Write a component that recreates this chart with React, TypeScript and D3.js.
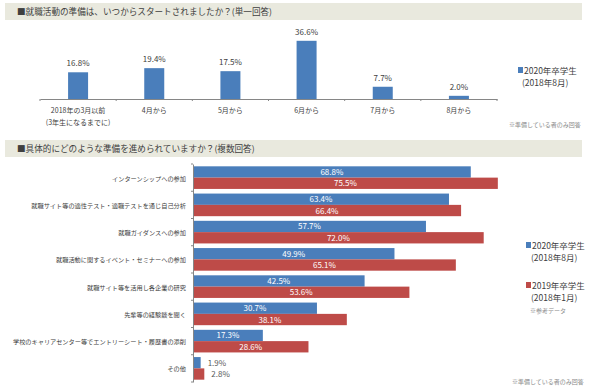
import React, { useEffect, useRef } from "react";
import * as d3 from "d3";

// top chart: single answer
const startCategories = [
  ["2018年の3月以前", "(3年生になるまでに)"],
  ["4月から"],
  ["5月から"],
  ["6月から"],
  ["7月から"],
  ["8月から"],
];
const startValues = [16.8, 19.4, 17.5, 36.6, 7.7, 2.0];

// bottom chart: multiple answers
const prepCategories = [
  "インターンシップへの参加",
  "就職サイト等の適性テスト・適職テストを通じ自己分析",
  "就職ガイダンスへの参加",
  "就職活動に関するイベント・セミナーへの参加",
  "就職サイト等を活用し各企業の研究",
  "先輩等の経験談を聞く",
  "学校のキャリアセンター等でエントリーシート・履歴書の添削",
  "その他",
];
const prep2020 = [68.8, 63.4, 57.7, 49.9, 42.5, 30.7, 17.3, 1.9];
const prep2019 = [75.5, 66.4, 72.0, 65.1, 53.6, 38.1, 28.6, 2.8];

const BLUE = "#4a7ebb";
const RED = "#be4b48";
const FONT = "'Noto Sans CJK JP', 'Noto Sans', sans-serif";

export default function App() {
  const svgRef = useRef<SVGSVGElement>(null);

  useEffect(() => {
    document.body.style.margin = "0";
    if (!svgRef.current) return;
    const svg = d3.select(svgRef.current);
    svg.selectAll("*").remove();
    svg.attr("width", 600).attr("height", 392).style("font-family", FONT);

    svg.append("rect").attr("width", 600).attr("height", 392).attr("fill", "#fff");

    // Header bands
    const headers = [
      { y: 3, text: "■就職活動の準備は、いつからスタートされましたか？(単一回答)" },
      { y: 140, text: "■具体的にどのような準備を進められていますか？(複数回答)" },
    ];
    headers.forEach((h) => {
      svg
        .append("rect")
        .attr("x", 5)
        .attr("y", h.y)
        .attr("width", 577)
        .attr("height", 17)
        .attr("fill", "#e9e9de");
      svg
        .append("text")
        .attr("x", 17)
        .attr("y", h.y + 12)
        .attr("font-size", "8.6px")
        .attr("fill", "#404040")
        .text(h.text);
    });

    // ---- Top chart ----
    const x0 = d3
      .scaleBand<number>()
      .domain(d3.range(startValues.length))
      .range([40, 497]);
    const y0 = d3.scaleLinear().domain([0, 40]).range([99, 35.4]);

    const top = svg.append("g");
    top
      .selectAll("rect.bar")
      .data(startValues)
      .enter()
      .append("rect")
      .attr("x", (_, i) => x0(i)! + x0.bandwidth() / 2 - 10)
      .attr("y", (d) => y0(d))
      .attr("width", 20)
      .attr("height", (d) => y0(0) - y0(d))
      .attr("fill", BLUE);

    top
      .selectAll("text.val")
      .data(startValues)
      .enter()
      .append("text")
      .attr("x", (_, i) => x0(i)! + x0.bandwidth() / 2)
      .attr("y", (d) => y0(d) - 6)
      .attr("text-anchor", "middle")
      .attr("font-size", "8px")
      .attr("fill", "#404040")
      .text((d) => d.toFixed(1) + "%");

    const xAxis = top
      .append("g")
      .attr("transform", `translate(0,${y0(0)})`)
      .call(d3.axisBottom(x0).tickSize(0).tickFormat(() => ""));
    xAxis.select(".domain").attr("stroke", "#868686");
    // boundary ticks
    d3.range(startValues.length + 1).forEach((i) => {
      const tx = 40 + i * x0.step();
      top
        .append("line")
        .attr("x1", tx)
        .attr("x2", tx)
        .attr("y1", y0(0))
        .attr("y2", y0(0) + 2)
        .attr("stroke", "#868686");
    });

    startCategories.forEach((lines, i) => {
      lines.forEach((line, j) => {
        top
          .append("text")
          .attr("x", x0(i)! + x0.bandwidth() / 2)
          .attr("y", 113 + j * 12)
          .attr("text-anchor", "middle")
          .attr("font-size", "7px")
          .attr("fill", "#404040")
          .text(line);
      });
    });

    // top legend
    top.append("rect").attr("x", 518).attr("y", 67).attr("width", 5).attr("height", 6).attr("fill", BLUE);
    top
      .append("text")
      .attr("x", 524)
      .attr("y", 74)
      .attr("font-size", "8.5px")
      .attr("fill", "#404040")
      .text("2020年卒学生");
    top
      .append("text")
      .attr("x", 522)
      .attr("y", 86)
      .attr("font-size", "8.5px")
      .attr("fill", "#404040")
      .text("(2018年8月)");
    top
      .append("text")
      .attr("x", 509)
      .attr("y", 127)
      .attr("font-size", "6px")
      .attr("fill", "#8a8a8a")
      .text("※準備している者のみ回答");

    // ---- Bottom chart ----
    const y1 = d3
      .scaleBand<number>()
      .domain(d3.range(prepCategories.length))
      .range([164, 382])
      .paddingInner(0.17)
      .paddingOuter(0.085);
    const x1 = d3.scaleLinear().domain([0, 80]).range([193, 516]);
    const barH = y1.bandwidth() / 2;

    const bottom = svg.append("g");
    const series = [
      { values: prep2020, color: BLUE, offset: 0 },
      { values: prep2019, color: RED, offset: barH },
    ];
    series.forEach((s) => {
      bottom
        .selectAll(null)
        .data(s.values)
        .enter()
        .append("rect")
        .attr("x", x1(0))
        .attr("y", (_, i) => y1(i)! + s.offset)
        .attr("width", (d) => x1(d) - x1(0))
        .attr("height", barH)
        .attr("fill", s.color);

      bottom
        .selectAll(null)
        .data(s.values)
        .enter()
        .append("text")
        .attr("x", (d) => (d < 5 ? x1(d) + 7 : (x1(0) + x1(d)) / 2))
        .attr("y", (_, i) => y1(i)! + s.offset + barH / 2 + 3)
        .attr("text-anchor", (d) => (d < 5 ? "start" : "middle"))
        .attr("font-size", "8px")
        .attr("fill", (d) => (d < 5 ? "#595959" : "#fff"))
        .text((d) => d.toFixed(1) + "%");
    });

    const yAxis = bottom
      .append("g")
      .attr("transform", `translate(${x1(0)},0)`)
      .call(d3.axisLeft(y1).tickSize(0).tickFormat(() => ""));
    yAxis.select(".domain").attr("stroke", "#868686");
    d3.range(prepCategories.length + 1).forEach((i) => {
      const ty = 164 + i * ((382 - 164) / prepCategories.length);
      bottom
        .append("line")
        .attr("x1", x1(0) - 2)
        .attr("x2", x1(0))
        .attr("y1", ty)
        .attr("y2", ty)
        .attr("stroke", "#868686");
    });

    bottom
      .selectAll("text.cat")
      .data(prepCategories)
      .enter()
      .append("text")
      .attr("x", 186)
      .attr("y", (_, i) => y1(i)! + y1.bandwidth() / 2 + 3)
      .attr("text-anchor", "end")
      .attr("font-size", "6.2px")
      .attr("fill", "#404040")
      .text((d) => d);

    // bottom legend
    const legendItems = [
      { color: BLUE, label: "2020年卒学生", sub: "(2018年8月)", y: 248 },
      { color: RED, label: "2019年卒学生", sub: "(2018年1月)", y: 288 },
    ];
    legendItems.forEach((l) => {
      bottom.append("rect").attr("x", 526).attr("y", l.y - 6).attr("width", 5).attr("height", 6).attr("fill", l.color);
      bottom
        .append("text")
        .attr("x", 532)
        .attr("y", l.y + 1)
        .attr("font-size", "8.5px")
        .attr("fill", "#404040")
        .text(l.label);
      bottom
        .append("text")
        .attr("x", 531)
        .attr("y", l.y + 13)
        .attr("font-size", "8.5px")
        .attr("fill", "#404040")
        .text(l.sub);
    });
    bottom
      .append("text")
      .attr("x", 530)
      .attr("y", 313)
      .attr("font-size", "6px")
      .attr("fill", "#8a8a8a")
      .text("※参考データ");
    bottom
      .append("text")
      .attr("x", 512)
      .attr("y", 384)
      .attr("font-size", "6px")
      .attr("fill", "#8a8a8a")
      .text("※準備している者のみ回答");
  }, []);

  return (
    <div style={{ width: 600, height: 392 }}>
      <svg ref={svgRef}></svg>
    </div>
  );
}
